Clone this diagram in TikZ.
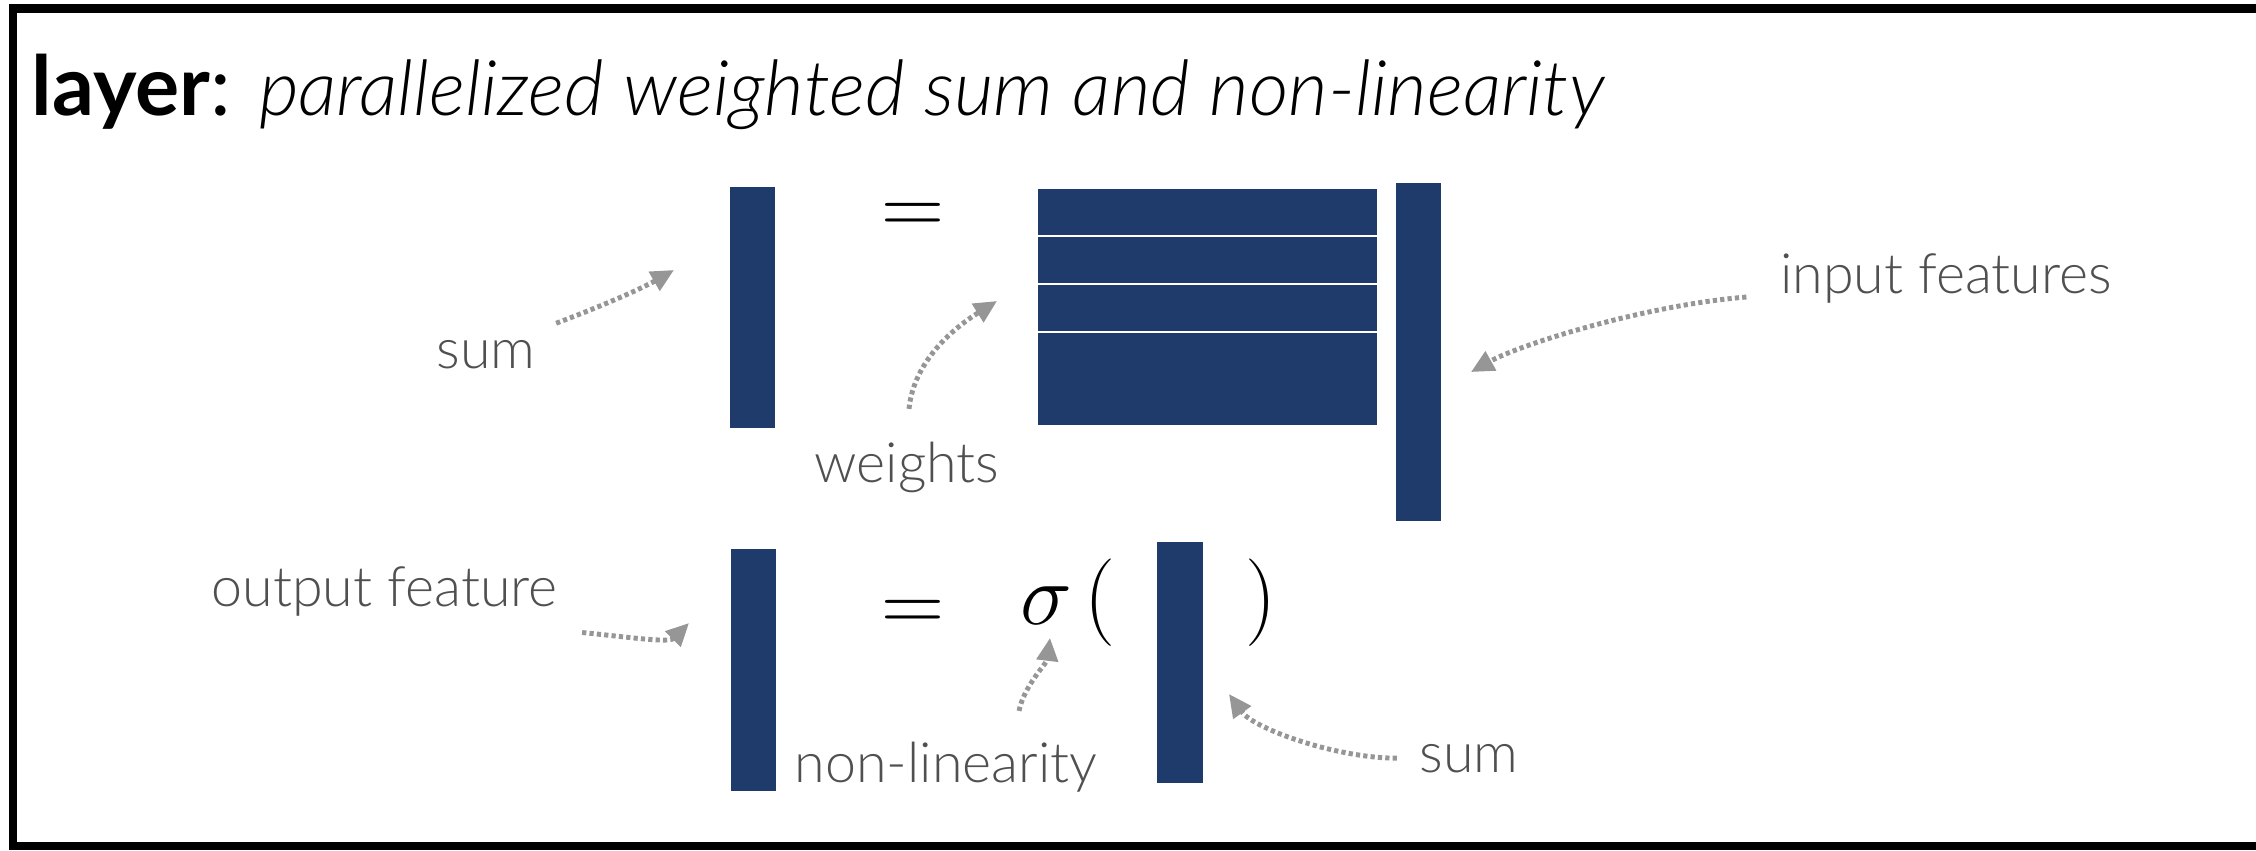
\documentclass[tikz,border=0pt]{standalone}
\usepackage{fontspec}
\setmainfont{Lato}
\newfontfamily\lightfont{Lato Light}
\usetikzlibrary{arrows.meta,calc}
\definecolor{navy}{RGB}{31,59,108}
\definecolor{labelgray}{RGB}{80,80,80}
\definecolor{arrowgray}{RGB}{150,150,150}

\begin{document}
\begin{tikzpicture}[x=0.01cm,y=-0.01cm,
    bar/.style={fill=navy,inner sep=0pt,minimum width=0.45cm},
    lbl/.style={text=labelgray,inner sep=0pt,font=\lightfont\fontsize{15.8}{19}\selectfont},
    sym/.style={inner sep=0pt,anchor=base,font=\fontsize{27}{27}\selectfont},
    pointer/.style={arrowgray,line width=1.4pt,dash pattern=on 1.2pt off 0.9pt,-{Triangle[length=6.5pt,width=6pt]}}]
        \useasboundingbox (0,0) rectangle (2256,850);
        \draw[line width=2.3pt] (13,8.5) rectangle (2262,846);
        \node[anchor=base west,inner sep=0pt,font=\fontsize{23.5}{28}\selectfont] (title) at (31,115)
            {\textbf{layer}: {\lightfont\itshape\fontsize{21.8}{28}\selectfont parallelized weighted sum and non-linearity}};

        % weighted sum
        \node[bar,minimum height=2.41cm] (sumtop) at (752.5,307.5) {};
        \node[sym] (eqtop) at (913,234) {$=$};
        \node[fill=navy,inner sep=0pt,minimum width=3.39cm,minimum height=2.36cm] (weightmat) at (1207.5,307) {};
        \foreach \y in {236,284,332}
            \draw[white,line width=0.6pt] (1038,\y) -- (1377,\y);
        \node[bar,minimum height=3.38cm] (infeat) at (1418.5,352) {};

        % non-linearity
        \node[bar,minimum height=2.42cm] (outfeat) at (753.5,670) {};
        \node[sym] (eqbot) at (913,631) {$=$};
        \node[sym] (sig) at (1046,624) {$\sigma$};
        \node[sym] (lpar) at (1099.5,624) {$($};
        \node[bar,minimum height=2.41cm] (sumbot) at (1180,662.5) {};
        \node[sym] (rpar) at (1260.5,624) {$)$};

        \node[lbl,anchor=base] (sumlbl) at (486,368) {sum};
        \node[lbl,anchor=base] (wlbl) at (907,482) {weights};
        \node[lbl,anchor=base] (inlbl) at (1946,293) {input features};
        \node[lbl,anchor=base] (outlbl) at (384.5,606) {output feature};
        \node[lbl,anchor=base] (nllbl) at (946,782) {non-linearity};
        \node[lbl,anchor=base] (sumlbltwo) at (1469,772) {sum};

        \coordinate (sumtip) at (674,270);
        \coordinate (wtip) at (997,301);
        \coordinate (intip) at (1471,372);
        \coordinate (outtip) at (689,623);
        \coordinate (nltip) at (1050,638);
        \coordinate (sumtiptwo) at (1229,694);

        \draw[pointer] ($(sumlbl.north east)+(20,-16)$) .. controls +(40,-15) and +(-35,20) .. (sumtip);
        \draw[pointer] ($(wlbl.north)+(2,-32)$) .. controls +(5,-50) and +(-40,25) .. (wtip);
        \draw[pointer] ($(inlbl.base west)+(-33,4)$) .. controls +(-100,8) and +(50,-28) .. (intip);
        \draw[pointer] ($(outlbl.south east)+(24,16)$) .. controls +(50,5) and +(-20,20) .. (outtip);
        \draw[pointer] ($(nllbl.north)+(73,-30)$) .. controls +(5,-25) and +(-3,25) .. (nltip);
        \draw[pointer] ($(sumlbltwo.west)+(-22,0)$) .. controls +(-60,0) and +(25,35) .. (sumtiptwo);
\end{tikzpicture}
\end{document}
